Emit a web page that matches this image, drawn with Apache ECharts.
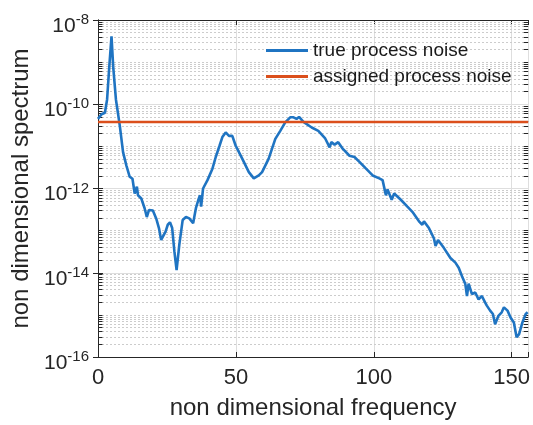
<!DOCTYPE html>
<html>
<head>
<meta charset="utf-8">
<script src="https://cdn.jsdelivr.net/npm/echarts@6/dist/echarts.min.js"></script>
<style>
  html, body { margin: 0; padding: 0; background: #ffffff; }
  #chart { width: 533px; height: 425px; }
</style>
</head>
<body>
<div id="chart"></div>
<script>
// Non-dimensional frequency of each spectrum sample
const frequency = [
  0.0, 1.3, 2.5, 3.3, 4.1, 4.9, 5.5, 6.5, 7.9, 9.1,
  10.3, 11.5, 12.5, 13.3, 14.1, 14.5, 15.7, 16.9, 17.7, 18.5,
  19.9, 21.1, 22.1, 22.9, 23.5, 24.5, 25.3, 26.1, 26.9, 27.7,
  28.5, 29.5, 30.7, 31.9, 33.1, 34.5, 35.5, 36.4, 37.0, 37.4,
  38.1, 39.7, 41.5, 42.7, 44.1, 45.1, 46.3, 47.5, 48.7, 49.9,
  52.3, 54.7, 56.5, 58.3, 59.5, 61.9, 64.3, 66.1, 67.9, 69.7,
  70.9, 72.0, 72.9, 74.5, 77.5, 79.9, 82.3, 84.0, 84.6, 85.8,
  87.1, 88.8, 91.2, 93.0, 94.8, 97.2, 99.6, 102.0, 103.2, 104.4,
  105.0, 106.5, 107.4, 109.8, 112.2, 114.0, 116.4, 117.6, 118.2, 120.0,
  121.8, 122.4, 123.3, 125.4, 127.8, 129.6, 130.8, 132.0, 133.2, 133.8,
  134.4, 135.6, 136.8, 138.0, 139.2, 140.4, 141.0, 142.2, 143.2, 144.0,
  145.2, 146.4, 147.2, 148.5, 149.6, 150.8, 151.8, 152.7, 153.9, 155.1,
  155.8
];

// Spectrum of the true process noise
const trueNoise = [
  4.5e-11, 5.8e-11, 6.3e-11, 1.3e-10, 7.9e-10, 4.1e-9, 7.9e-10, 1.3e-10, 3.1e-11, 7.2e-12,
  3.5e-12, 1.9e-12, 1.7e-12, 7.6e-13, 1.1e-12, 6.9e-13, 5.8e-13, 3.4e-13, 2.1e-13, 3.1e-13,
  3.0e-13, 1.95e-13, 1.15e-13, 6.0e-14, 5.6e-14, 9.5e-14, 1.38e-13, 1.58e-13, 1.15e-13, 3.2e-14,
  1.15e-14, 4.7e-14, 1.78e-13, 2.1e-13, 1.95e-13, 1.5e-13, 3.4e-13, 5.4e-13, 6.9e-13, 3.7e-13,
  1.0e-12, 1.58e-12, 2.95e-12, 5.6e-12, 1.05e-11, 1.66e-11, 2.14e-11, 1.78e-11, 1.78e-11, 1.05e-11,
  5.1e-12, 2.45e-12, 1.74e-12, 2.04e-12, 2.45e-12, 5.1e-12, 1.51e-11, 2.34e-11, 3.7e-11, 4.9e-11,
  4.9e-11, 4.5e-11, 5.0e-11, 3.8e-11, 2.8e-11, 2.34e-11, 1.58e-11, 9.5e-12, 1.26e-11, 1.1e-11,
  1.26e-11, 8.7e-12, 6.0e-12, 5.6e-12, 4.3e-12, 2.95e-12, 2.04e-12, 1.74e-12, 1.58e-12, 6.9e-13,
  9.5e-13, 5.4e-13, 7.6e-13, 5.4e-13, 3.7e-13, 2.8e-13, 1.66e-13, 1.38e-13, 1.66e-13, 1.15e-13,
  6.6e-14, 4.3e-14, 6.0e-14, 3.9e-14, 2.24e-14, 1.74e-14, 1.32e-14, 8.3e-15, 5.4e-15, 2.8e-15,
  5.5e-15, 3.1e-15, 3.4e-15, 2.34e-15, 2.8e-15, 1.95e-15, 1.66e-15, 1.26e-15, 1.05e-15, 6.0e-16,
  9.5e-16, 1.15e-15, 1.51e-15, 1.26e-15, 8.7e-16, 6.6e-16, 2.95e-16, 3.5e-16, 6.6e-16, 1.05e-15,
  1.15e-15
];

// Constant level of the assigned process noise
const assignedLevel = 3.8e-11;

// Axis ranges and tick settings
const freqRange = [0, 156];
const freqTickStep = 50;
const spectrumRange = [1e-16, 1e-8];
const decadeStep = 2;

const seriesNames = ['true process noise', 'assigned process noise'];

const FONT = '"Liberation Sans", Arial, Helvetica, sans-serif';
const INK = '#262626';
const BLUE = '#1f74c2';
const RED = '#db4f1c';

// Values of the minor log grid: 2..9 x 10^e in every decade, plus the unlabeled decades
const minorValues = [];
for (let e = Math.round(Math.log10(spectrumRange[0])); e < Math.round(Math.log10(spectrumRange[1])); e++) {
  for (let m = 1; m <= 9; m++) {
    if (m === 1 && e % decadeStep === 0) continue;
    minorValues.push(m * Math.pow(10, e));
  }
}

const tickSpan = 1.6; // length of a minor tick, in frequency units
const minorGridItems = [];
minorValues.forEach(v => {
  minorGridItems.push([
    { coord: [freqRange[0], v], lineStyle: { type: [2, 2], color: '#cccccc', width: 1 } },
    { coord: [freqRange[1], v] }
  ]);
  minorGridItems.push([
    { coord: [freqRange[0], v], lineStyle: { type: 'solid', color: INK, width: 1 } },
    { coord: [freqRange[0] + tickSpan, v] }
  ]);
  minorGridItems.push([
    { coord: [freqRange[1] - tickSpan, v], lineStyle: { type: 'solid', color: INK, width: 1 } },
    { coord: [freqRange[1], v] }
  ]);
});

function powerLabel(value) {
  const e = Math.round(Math.log10(value));
  return '{b|10}{s|' + e + '}';
}

function freqLabel(value) {
  return value % freqTickStep === 0 ? String(value) : '';
}

const axisCommon = {
  axisLine: { show: true, lineStyle: { color: INK, width: 1 } },
  axisTick: { show: true, inside: true, length: 5, lineStyle: { color: INK, width: 1 } }
};

const chart = echarts.init(document.getElementById('chart'), null, { renderer: 'canvas' });

chart.setOption({
  animation: false,
  backgroundColor: '#ffffff',
  grid: { left: 98, right: 2, top: 20, bottom: 65, containLabel: false },
  legend: {
    data: [
      { name: seriesNames[0], icon: 'rect', itemStyle: { color: BLUE } },
      { name: seriesNames[1], icon: 'rect', itemStyle: { color: RED } }
    ],
    orient: 'vertical',
    left: 261,
    top: 36,
    itemWidth: 42,
    itemHeight: 3,
    itemGap: 7,
    backgroundColor: 'transparent',
    textStyle: { fontFamily: FONT, fontSize: 19, color: '#1a1a1a' }
  },
  xAxis: [
    Object.assign({}, axisCommon, {
      type: 'value',
      min: freqRange[0],
      max: freqRange[1],
      interval: freqTickStep,
      position: 'bottom',
      name: 'non dimensional frequency',
      nameLocation: 'middle',
      nameGap: 39,
      nameTextStyle: { fontFamily: FONT, fontSize: 24, color: INK },
      axisLabel: { fontFamily: FONT, fontSize: 22, color: INK, margin: 10, formatter: freqLabel },
      splitLine: { show: true, lineStyle: { color: '#dedede', width: 1 } }
    }),
    Object.assign({}, axisCommon, {
      type: 'value',
      min: freqRange[0],
      max: freqRange[1],
      interval: freqTickStep,
      position: 'top',
      axisLabel: { show: false },
      splitLine: { show: false }
    })
  ],
  yAxis: [
    Object.assign({}, axisCommon, {
      type: 'log',
      logBase: 10,
      min: spectrumRange[0],
      max: spectrumRange[1],
      interval: decadeStep,
      position: 'left',
      name: 'non dimensional spectrum',
      nameLocation: 'middle',
      nameGap: 64,
      nameRotate: 90,
      nameTextStyle: { fontFamily: FONT, fontSize: 24, color: INK },
      axisLabel: {
        margin: 9,
        formatter: powerLabel,
        rich: {
          b: { fontFamily: FONT, fontSize: 21, color: INK, padding: [12, 0, 0, 0] },
          s: { fontFamily: FONT, fontSize: 15, color: INK, verticalAlign: 'top', padding: [9, 0, 0, 0] }
        }
      },
      splitLine: { show: true, lineStyle: { color: '#dedede', width: 1 } }
    }),
    Object.assign({}, axisCommon, {
      type: 'log',
      logBase: 10,
      min: spectrumRange[0],
      max: spectrumRange[1],
      interval: decadeStep,
      position: 'right',
      axisLabel: { show: false },
      splitLine: { show: false }
    })
  ],
  series: [
    {
      // carrier for the minor log grid and the minor ticks on both vertical edges
      type: 'line',
      data: [[freqRange[0], spectrumRange[0]]],
      symbol: 'none',
      lineStyle: { opacity: 0 },
      z: 1,
      silent: true,
      markLine: {
        z: 1,
        silent: true,
        symbol: ['none', 'none'],
        label: { show: false },
        emphasis: { disabled: true },
        animation: false,
        data: minorGridItems
      }
    },
    {
      name: seriesNames[0],
      type: 'line',
      data: frequency.map((f, i) => [f, trueNoise[i]]),
      showSymbol: false,
      symbol: 'none',
      z: 3,
      lineStyle: { color: BLUE, width: 2.6 },
      itemStyle: { color: BLUE }
    },
    {
      name: seriesNames[1],
      type: 'line',
      data: [[freqRange[0], assignedLevel], [freqRange[1], assignedLevel]],
      showSymbol: false,
      symbol: 'none',
      z: 4,
      lineStyle: { color: RED, width: 2.6 },
      itemStyle: { color: RED }
    }
  ]
});
</script>
</body>
</html>
